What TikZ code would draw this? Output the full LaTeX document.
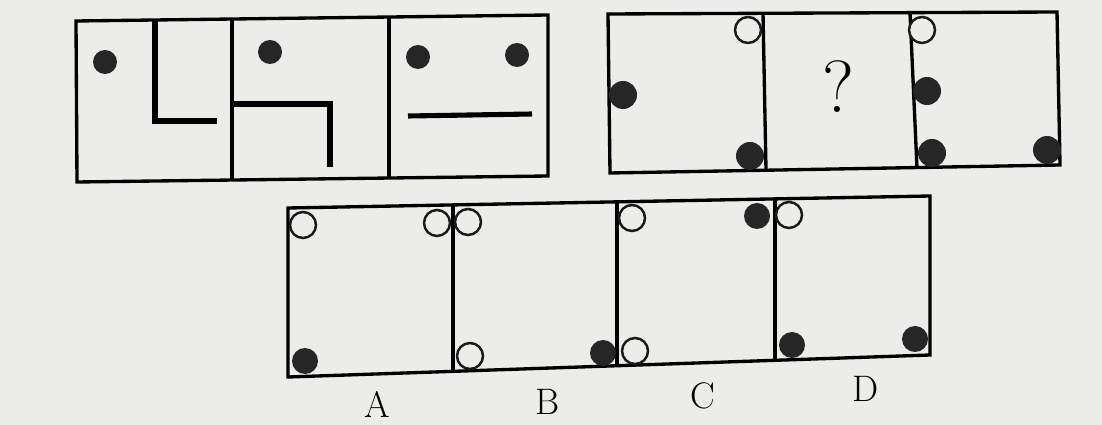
\documentclass[tikz,border=0pt]{standalone}
\definecolor{paper}{RGB}{236,236,233}
\begin{document}
\begin{tikzpicture}[x=0.02cm,y=-0.02cm,
    frame/.style={line width=1.9pt,line join=miter},
    bar/.style={line width=2.9pt},
    dot/.style={fill=black!85},
    ring/.style={draw=black!90,line width=1.4pt,fill=paper}]
  \fill[paper] (0,0) rectangle (1102,425);
  \useasboundingbox (0,0) rectangle (1102,425);
  % given sequence
  \draw[frame] (76,21) -- (548,15) -- (548,176) -- (77,182) -- cycle;
  \draw[frame] (232,19) -- (232,180);
  \draw[frame] (389,17) -- (389,178);
  \fill[dot] (105,62) circle (12);
  \draw[bar] (155,20) -- (155,121) -- (217,121);
  \fill[dot] (270,52) circle (12);
  \draw[bar] (232,104) -- (330,104) -- (330,167);
  \fill[dot] (418,57) circle (12);
  \fill[dot] (517,55) circle (12);
  \draw[bar] (408,116) -- (532,114);
  % sequence with gap
  \draw[frame] (608,14) -- (1057,12) -- (1060,165) -- (610,173) -- cycle;
  \draw[frame] (763,13) -- (766,170);
  \draw[frame] (910,13) -- (917,168);
  \draw[ring] (748,30) circle (13);
  \fill[dot] (623,95) circle (14);
  \fill[dot] (750,156) circle (14);
  \node (q) at (838,87) {\fontsize{42}{48}\selectfont ?};
  \draw[ring] (922,30) circle (13);
  \fill[dot] (927,91) circle (14);
  \fill[dot] (932,153) circle (14);
  \fill[dot] (1047,150) circle (14);
  % options
  \draw[frame] (288,208) -- (930,196) -- (930,355) -- (288,377) -- cycle;
  \draw[frame] (453,205) -- (453,371);
  \draw[frame] (617,202) -- (617,366);
  \draw[frame] (775,199) -- (775,360);
  \draw[ring] (303,225) circle (13);
  \draw[ring] (437,223) circle (13);
  \fill[dot] (305,361) circle (13);
  \draw[ring] (468,222) circle (13);
  \draw[ring] (470,356) circle (13);
  \fill[dot] (603,353) circle (13);
  \draw[ring] (632,218) circle (13);
  \fill[dot] (757,216) circle (13);
  \draw[ring] (635,351) circle (13);
  \draw[ring] (789,215) circle (13);
  \fill[dot] (792,345) circle (13);
  \fill[dot] (915,339) circle (13);
  \node (labA) at (377,404) {\fontsize{21}{24}\selectfont A};
  \node (labB) at (548,402) {\fontsize{21}{24}\selectfont B};
  \node (labC) at (703,396) {\fontsize{21}{24}\selectfont C};
  \node (labD) at (866,389) {\fontsize{21}{24}\selectfont D};
\end{tikzpicture}
\end{document}
